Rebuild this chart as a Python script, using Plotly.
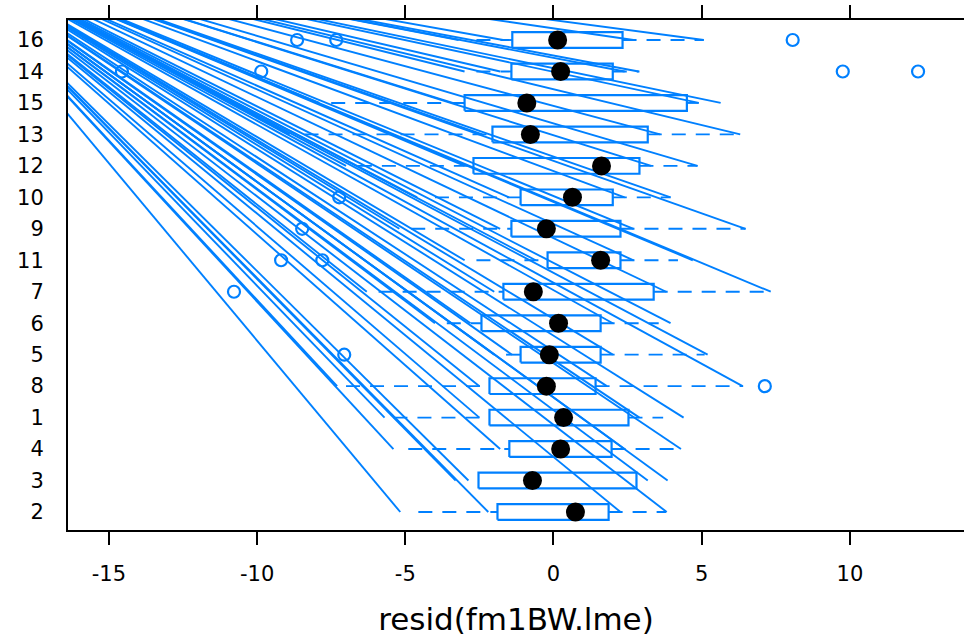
import plotly.graph_objects as go

# Rats, listed bottom-to-top (position 1 = bottom row)
rats = ["2", "3", "4", "1", "8", "5", "6", "7", "11", "9", "10", "12", "13", "15", "14", "16"]
q1 = [-1.89, -2.53, -1.49, -2.16, -2.16, -1.11, -2.43, -1.69, -0.20, -1.42, -1.11, -2.70, -2.06, -3.00, -1.42, -1.39]
med = [0.74, -0.71, 0.24, 0.34, -0.24, -0.14, 0.17, -0.68, 1.59, -0.24, 0.64, 1.62, -0.78, -0.90, 0.24, 0.14]
q3 = [1.86, 2.80, 1.96, 2.53, 1.42, 1.59, 1.59, 3.38, 2.26, 2.26, 2.00, 2.90, 3.18, 4.50, 2.00, 2.33]
wlo = [-4.56, -2.53, -4.90, -5.40, -7.00, -1.60, -3.60, -5.90, -2.60, -4.80, -4.00, -6.60, -8.40, -7.50, -2.60, -2.60]
whi = [3.80, 2.80, 4.30, 3.70, 6.40, 5.10, 3.55, 7.33, 4.20, 6.48, 3.95, 4.86, 6.30, 4.90, 2.90, 5.07]

# outliers: (rat, value)
out_rat = ["16", "16", "16", "14", "14", "14", "14", "10", "9", "11", "11", "7", "5", "8"]
out_val = [-8.65, -7.33, 8.07, -14.56, -9.86, 9.76, 12.30, -7.23, -8.48, -9.19, -7.80, -10.78, -7.06, 7.13]

# stray ray end points per row (rendering artefact lines)
ray_a = [-5.17, -3.30, -5.40, -5.70, -7.30, -2.00, -4.00, -6.30, -3.00, -5.20, -4.60, -7.00, -8.90, -7.90, -3.00, -3.20]
ray_b = [-2.20, -2.87, -1.80, -2.50, -2.50, -1.40, -2.80, -2.00, -0.60, -1.80, -1.50, -3.00, -2.40, -3.40, -1.80, -1.70]
ray_c = [2.26, 3.18, 2.40, 2.90, 1.80, 2.00, 2.00, 3.80, 2.70, 2.70, 2.40, 3.30, 3.60, 4.90, 2.40, 2.70]
ray_d = [3.82, 3.85, 4.30, 4.39, 6.38, 5.20, 3.95, 7.33, 4.70, 6.48, 3.95, 4.86, 6.30, 5.64, 2.87, 5.07]
ray_origin = (-21.4, 19.3)

x_ticks = [-15, -10, -5, 0, 5, 10]

BLUE = "#0080ff"
pos = list(range(1, len(rats) + 1))
pos_of = {r: p for r, p in zip(rats, pos)}
H = 0.25

fig = go.Figure()

# rays
rx, ry = [], []
for p, a, b, c, d in zip(pos, ray_a, ray_b, ray_c, ray_d):
    for e in (a, b, c, d):
        rx += [ray_origin[0], e, None]
        ry += [ray_origin[1], p, None]
fig.add_trace(go.Scatter(x=rx, y=ry, mode="lines", line=dict(color=BLUE, width=1.9),
                         hoverinfo="skip", showlegend=False))

# whiskers
wx, wy = [], []
for p, lo, a, b, hi in zip(pos, wlo, q1, q3, whi):
    if lo < a:
        wx += [lo, a, None]; wy += [p, p, None]
    if hi > b:
        wx += [b, hi, None]; wy += [p, p, None]
fig.add_trace(go.Scatter(x=wx, y=wy, mode="lines", line=dict(color=BLUE, width=1.9, dash="14px,10px"),
                         hoverinfo="skip", showlegend=False))

# boxes
bx, by = [], []
for p, a, b in zip(pos, q1, q3):
    bx += [a, b, b, a, a, None]
    by += [p - H, p - H, p + H, p + H, p - H, None]
fig.add_trace(go.Scatter(x=bx, y=by, mode="lines", line=dict(color=BLUE, width=2.2),
                         hoverinfo="skip", showlegend=False))

# outliers
fig.add_trace(go.Scatter(x=out_val, y=[pos_of[r] for r in out_rat], mode="markers",
                         marker=dict(symbol="circle-open", size=12, color=BLUE, line=dict(width=2.2)),
                         showlegend=False))

# medians
fig.add_trace(go.Scatter(x=med, y=pos, mode="markers",
                         marker=dict(symbol="circle", size=19, color="black"),
                         showlegend=False))

font = "DejaVu Sans, Arial, sans-serif"
fig.update_layout(
    width=964, height=637,
    margin=dict(l=68, r=0, t=20, b=107),
    plot_bgcolor="white", paper_bgcolor="white",
    font=dict(family=font, color="black"),
    xaxis=dict(range=[-16.38, 13.85], tickvals=x_ticks, ticktext=[str(t) for t in x_ticks],
               showgrid=False, zeroline=False, showline=True, linecolor="black", linewidth=2,
               mirror="ticks", ticks="outside", ticklen=13, tickwidth=2, tickcolor="black",
               tickfont=dict(size=21), ticklabelstandoff=11,
               title=dict(text="resid(fm1BW.lme)", font=dict(size=31), standoff=24)),
    yaxis=dict(range=[0.428, 16.636], tickvals=pos, ticktext=rats,
               showgrid=False, zeroline=False, showline=True, linecolor="black", linewidth=2,
               ticks="", tickfont=dict(size=21), ticklabelstandoff=18),
)

fig.write_html("out.html", config={"displayModeBar": False},
               post_script="document.body.style.margin='0';document.body.style.overflow='hidden';")
